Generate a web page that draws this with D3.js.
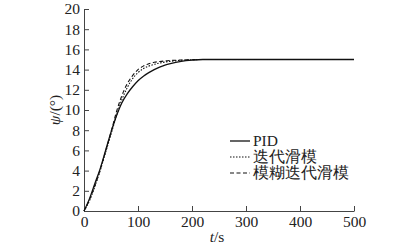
<!DOCTYPE html>
<html>
<head>
<meta charset="utf-8">
<script src="https://cdn.jsdelivr.net/npm/d3@7"></script>
<style>
  body { margin: 0; background: #fff; }
  svg text { font-family: "Liberation Serif", "Times New Roman", serif; fill: #222; }
</style>
</head>
<body>
<div class="chart"></div>
<script>
// Sampled time points (s)
const times = [0, 10, 20, 30, 40, 50, 60, 70, 80, 90, 100, 110, 120, 130, 140, 150, 160, 180, 200, 220, 300, 400, 500];
// Heading angle responses (deg)
const pidValues   = [0, 1.2, 2.7, 4.2, 6.0, 7.8, 9.4, 10.7, 11.6, 12.3, 12.9, 13.35, 13.7, 14.0, 14.25, 14.45, 14.6, 14.82, 14.94, 15, 15, 15, 15];
const iterValues  = [0, 1.0, 2.4, 4.0, 5.8, 7.6, 9.4, 11.0, 12.2, 13.1, 13.7, 14.1, 14.35, 14.52, 14.65, 14.75, 14.82, 14.92, 14.97, 15, 15, 15, 15];
const fuzzyValues = [0, 1.1, 2.5, 4.1, 5.9, 7.8, 9.8, 11.4, 12.6, 13.4, 14.0, 14.35, 14.58, 14.72, 14.8, 14.86, 14.9, 14.95, 14.98, 15, 15, 15, 15];

const xTicks = [0, 100, 200, 300, 400, 500];
const yTicks = [0, 2, 4, 6, 8, 10, 12, 14, 16, 18, 20];

const seriesNames = ["PID", "迭代滑模", "模糊迭代滑模"];
const seriesDash = ["none", "1.5,1.5", "4,2.5"];

// Chart dimensions
const width = 412, height = 248;
const margin = { top: 9, right: 58, bottom: 37, left: 84 };

const svg = d3.select(".chart")
  .append("svg")
  .attr("width", width)
  .attr("height", height);

const x = d3.scaleLinear()
  .domain([0, 500])
  .range([margin.left, width - margin.right]);

const y = d3.scaleLinear()
  .domain([0, 20])
  .range([height - margin.bottom, margin.top]);

// x axis, ticks pointing inward
const xAxis = svg.append("g")
  .attr("transform", `translate(0, ${height - margin.bottom})`)
  .call(d3.axisBottom(x).tickValues(xTicks).tickSizeInner(-5).tickSizeOuter(0).tickPadding(4));

// y axis, ticks pointing inward
const yAxis = svg.append("g")
  .attr("transform", `translate(${margin.left}, 0)`)
  .call(d3.axisLeft(y).tickValues(yTicks).tickSizeInner(-5).tickSizeOuter(0).tickPadding(4));

[xAxis, yAxis].forEach(a => {
  a.select(".domain").attr("stroke", "#444").attr("stroke-width", 1);
  a.selectAll(".tick line").attr("stroke", "#444");
  a.selectAll(".tick text")
    .attr("font-family", "Liberation Serif, serif")
    .attr("font-size", 15.5)
    .attr("fill", "#222");
});
xAxis.selectAll(".tick text").attr("dy", "0.8em");

// axis labels
const xLabel = svg.append("text")
  .attr("x", 217)
  .attr("y", 242)
  .attr("text-anchor", "middle")
  .attr("font-size", 15.5);
xLabel.append("tspan").attr("font-style", "italic").text("t");
xLabel.append("tspan").text("/s");

const yLabel = svg.append("text")
  .attr("transform", "translate(60, 110) rotate(-90)")
  .attr("text-anchor", "middle")
  .attr("font-size", 15.5);
yLabel.append("tspan").attr("font-style", "italic").text("ψ");
yLabel.append("tspan").text("/(°)");

// response curves
const line = d3.line()
  .curve(d3.curveMonotoneX)
  .x((d, i) => x(times[i]))
  .y(d => y(d));

[pidValues, iterValues, fuzzyValues].forEach((vals, i) => {
  svg.append("path")
    .datum(vals)
    .attr("fill", "none")
    .attr("stroke", "#111")
    .attr("stroke-width", i === 0 ? 1.3 : 1.1)
    .attr("stroke-dasharray", seriesDash[i])
    .attr("d", line);
});

// legend
const legend = svg.append("g").attr("transform", "translate(230, 141)");
seriesNames.forEach((name, i) => {
  const row = legend.append("g").attr("transform", `translate(0, ${i * 16})`);
  row.append("line")
    .attr("x1", 0).attr("x2", 20)
    .attr("y1", 0).attr("y2", 0)
    .attr("stroke", "#111")
    .attr("stroke-width", i === 0 ? 1.3 : 1.1)
    .attr("stroke-dasharray", seriesDash[i]);
  row.append("text")
    .attr("x", 23)
    .attr("y", 0)
    .attr("dy", "0.35em")
    .attr("font-size", 15.5)
    .attr("font-family", i === 0 ? "Liberation Serif, serif" : "Noto Sans CJK SC, sans-serif")
    .text(name);
});
</script>
</body>
</html>
